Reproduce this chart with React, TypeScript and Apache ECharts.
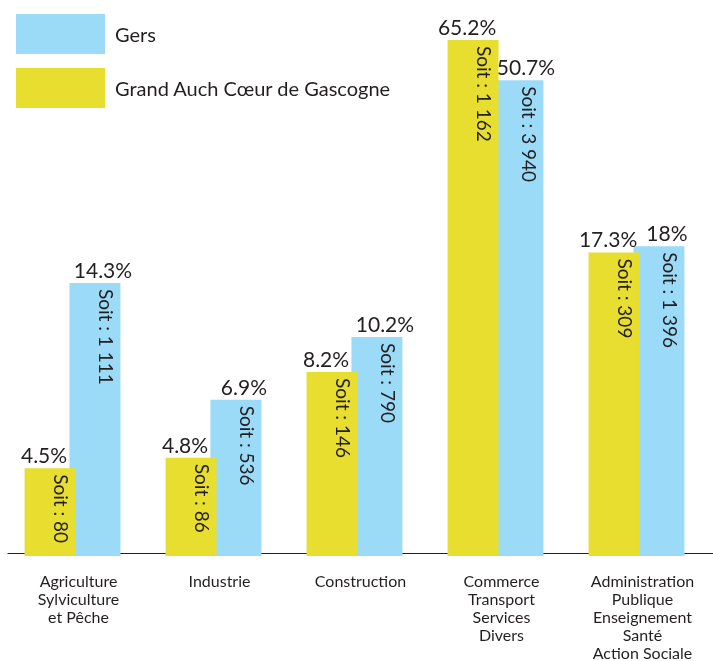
import React, { useEffect, useRef } from "react";
import * as echarts from "echarts";

const categories = [
  "Agriculture\nSylviculture\net Pêche",
  "Industrie",
  "Construction",
  "Commerce\nTransport\nServices\nDivers",
  "Administration\nPublique\nEnseignement\nSanté\nAction Sociale",
];
const seriesNames = ["Gers", "Grand Auch Cœur de Gascogne"];
const gersPct = [14.3, 6.9, 10.2, 50.7, 18];
const gersCount = [1111, 536, 790, 3940, 1396];
const auchPct = [4.5, 4.8, 8.2, 65.2, 17.3];
const auchCount = [80, 86, 146, 1162, 309];

const BLUE = "#9cdbf7";
const YELLOW = "#e8de2f";
const TEXT = "#231f20";

const fmtCount = (n: number) => String(n).replace(/\B(?=(\d{3})+(?!\d))/g, " ");

export default function App() {
  const ref = useRef<HTMLDivElement>(null);
  useEffect(() => {
    if (!ref.current) return;
    const chart = echarts.init(ref.current, undefined, { renderer: "svg" });
    const barCommon = {
      type: "bar",
      barWidth: 51,
      barGap: "-12%",
      clip: true,
      yAxisIndex: 0,
    };
    const topLabel = (dx: number) => ({
      show: true,
      position: "top",
      distance: 3,
      offset: [dx, 0],
      color: TEXT,
      fontFamily: "Lato",
      fontSize: 21,
      formatter: (p: any) => `${p.value}%`,
    });
    const innerLabel = (counts: number[]) => ({
      show: true,
      position: ["72%", 6],
      rotate: -90,
      align: "left",
      verticalAlign: "middle",
      color: TEXT,
      fontFamily: "Lato",
      fontSize: 19,
      formatter: (p: any) => `Soit : ${fmtCount(counts[p.dataIndex])}`,
    });
    chart.setOption({
      animation: false,
      legend: {
        data: seriesNames,
        orient: "vertical",
        left: 11,
        top: 9,
        icon: "rect",
        itemWidth: 89,
        itemHeight: 40,
        itemGap: 14,
        textStyle: { color: TEXT, fontFamily: "Lato", fontSize: 20, padding: [0, 0, 0, 5] },
        selectedMode: false,
      },
      grid: [
        { left: 8, right: 0, top: 40, bottom: 105 },
        { left: 2, right: 6, top: 40, bottom: 105 },
      ],
      xAxis: [
        {
          type: "category",
          data: categories,
          gridIndex: 0,
          axisLine: { lineStyle: { color: TEXT, width: 1.2 } },
          axisTick: { inside: true, length: 9, lineStyle: { color: TEXT, width: 1.2 } },
          axisLabel: {
            interval: 0,
            color: TEXT,
            fontFamily: "Lato",
            fontSize: 16,
            lineHeight: 18,
            margin: 18,
          },
        },
        { type: "category", data: categories, gridIndex: 1, show: false },
        { type: "category", data: categories, gridIndex: 1, show: false },
      ],
      yAxis: [
        {
          type: "log",
          gridIndex: 1,
          min: 2.6,
          max: 65.2,
          startValue: 2.6,
          show: false,
          splitLine: { show: false },
        },
        { type: "value", gridIndex: 0, show: false, splitLine: { show: false } },
      ],
      series: [
        {
          ...barCommon,
          name: seriesNames[1],
          xAxisIndex: 1,
          data: auchPct,
          z: 3,
          itemStyle: { color: YELLOW },
          label: topLabel(-6),
        },
        {
          ...barCommon,
          name: seriesNames[0],
          xAxisIndex: 1,
          data: gersPct,
          z: 2,
          itemStyle: { color: BLUE },
          label: topLabel(8),
        },
        {
          ...barCommon,
          name: "auchInner",
          xAxisIndex: 2,
          data: auchPct,
          z: 5,
          itemStyle: { color: "transparent" },
          label: innerLabel(auchCount),
        },
        {
          ...barCommon,
          name: "gersInner",
          xAxisIndex: 2,
          data: gersPct,
          z: 4,
          itemStyle: { color: "transparent" },
          label: innerLabel(gersCount),
        },
      ],
    });
    return () => chart.dispose();
  }, []);
  return (
    <div
      ref={ref}
      style={{ position: "fixed", left: 0, top: 0, width: 713, height: 661 }}
    />
  );
}
